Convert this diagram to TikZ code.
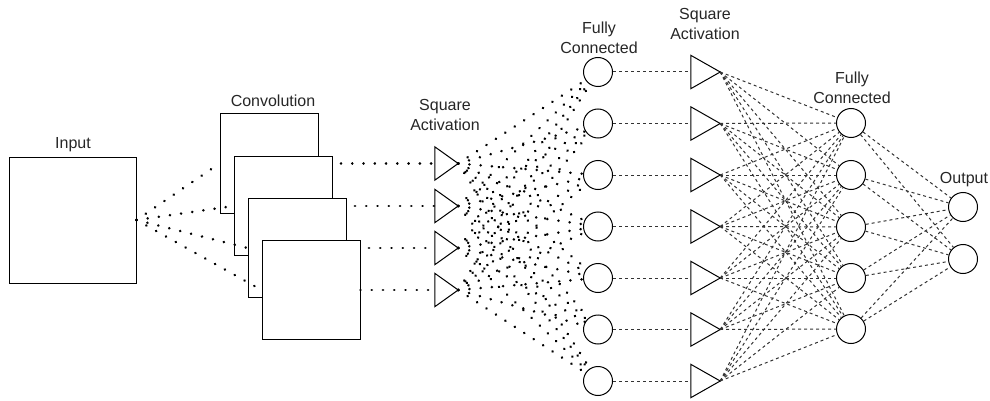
\documentclass[tikz,border=0pt]{standalone}
\usepackage{fontspec}
\setmainfont{Liberation Sans}
\begin{document}
\begin{tikzpicture}[x=1pt,y=-1pt,
  lbl/.style={font=\fontsize{16}{19.5}\selectfont, text=black!85, align=center, inner sep=0},
  box/.style={draw, line width=1pt, fill=white, inner sep=0},
  trislot/.style={inner sep=0, minimum width=#1, minimum height=33pt},
  neuron/.style={circle, draw, line width=1pt, fill=white, inner sep=0, minimum size=29pt},
  dots/.style={line width=2.8pt, line cap=round, dash pattern=on 0.01pt off 11.25pt},
  dashes/.style={line width=1pt, draw=black!80, dash pattern=on 3pt off 3pt}]
\useasboundingbox (0,0) rectangle (990,401);

% labels
\node[lbl] (lin) at (73,145) {Input};
\node[lbl] (lconv) at (273,101) {Convolution};
\node[lbl] (lsq1) at (445,115) {Square\\Activation};
\node[lbl] (lfc1) at (599,38) {Fully\\Connected};
\node[lbl] (lsq2) at (705,24) {Square\\Activation};
\node[lbl] (lfc2) at (852,88) {Fully\\Connected};
\node[lbl] (lout) at (964,180) {Output};

% first square activation layer (4 units)
\foreach \i/\y in {1/163.5,2/206,3/248,4/290}
  \node[trislot=23pt] (a\i) at (446.5,\y) {};

% first fully connected layer (7 units) and second activation layer
\foreach \j/\y in {1/72,2/123.5,3/175,4/226.5,5/278,6/329.5,7/381}{
  \node[neuron] (f\j) at (598,\y) {};
  \node[trislot=29pt] (b\j) at (705.5,\y) {};
}

% second fully connected layer (5 units)
\foreach \k/\y in {1/123,2/175,3/227,4/278,5/329}
  \node[neuron] (g\k) at (851,\y) {};

% output units
\node[neuron] (o1) at (963,207) {};
\node[neuron] (o2) at (963,259) {};

% input image
\node[box, minimum width=127pt, minimum height=126pt] (in) at (72.5,220) {};

% stacked convolution maps, each feeding its activation
\node[box, minimum width=98pt, minimum height=99pt] (c1) at (269,163.5) {};
\draw[dots] (c1.east) -- (a1.west);
\node[box, minimum width=98pt, minimum height=99pt] (c2) at (283,206) {};
\draw[dots] (c2.east) -- (a2.west);
\node[box, minimum width=98pt, minimum height=99pt] (c3) at (297,248) {};
\draw[dots] (c3.east) -- (a3.west);
\node[box, minimum width=98pt, minimum height=99pt] (c4) at (311,290) {};
\draw[dots] (c4.east) -- (a4.west);

% input to every convolution map
\foreach \i in {1,...,4}
  \draw[dots] (in.east) -- (c\i.west);

% triangles of the activation units
\foreach \t in {a1,a2,a3,a4,b1,b2,b3,b4,b5,b6,b7}
  \draw[line width=1pt, line join=miter] (\t.north west) -- (\t.east) -- (\t.south west) -- cycle;

% activation 1 -> fully connected 1
\foreach \i in {1,...,4}
  \foreach \j in {1,...,7}
    \draw[dots] (a\i.east) -- (f\j);

% fully connected 1 -> activation 2
\foreach \j in {1,...,7}
  \draw[dashes] (f\j) -- (b\j.west);

% activation 2 -> fully connected 2
\foreach \j in {1,...,7}
  \foreach \k in {1,...,5}
    \draw[dashes] (b\j.east) -- (g\k);

% fully connected 2 -> output
\foreach \k in {1,...,5}
  \foreach \m in {1,2}
    \draw[dashes] (g\k) -- (o\m);
\end{tikzpicture}
\end{document}
